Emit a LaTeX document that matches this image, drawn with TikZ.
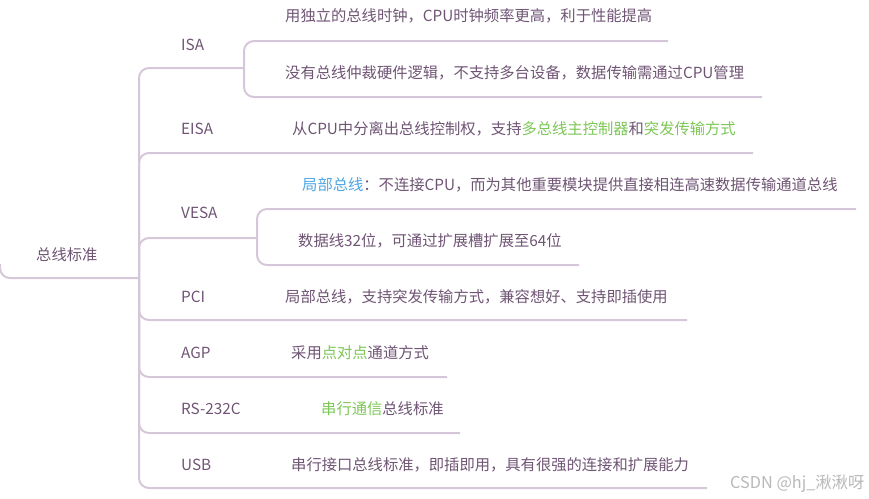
\documentclass[tikz,border=0pt]{standalone}
\usepackage{fontspec}
\setmainfont{Noto Sans CJK SC}
\newfontfamily\wmfont{Noto Sans CJK SC}
\definecolor{txt}{HTML}{6F5474}
\definecolor{ln}{HTML}{D6C6DA}
\definecolor{grn}{HTML}{7CC655}
\definecolor{blu}{HTML}{4EA6E4}
\definecolor{wm}{HTML}{B8B8B8}
\begin{document}
\begin{tikzpicture}[x=1pt,y=-1pt,
  lbl/.style={anchor=west,inner sep=0pt,text=txt,font=\fontsize{15.3}{17}\selectfont},
  br/.style={draw=ln,line width=2pt,rounded corners=10pt}]
\useasboundingbox (0,0) rectangle (869,498);
% text nodes
\node[lbl] (root) at (36,255) {总线标准};
\node[lbl] (isa) at (181,45) {ISA};
\node[lbl] (isa1) at (285,16) {用独立的总线时钟，CPU时钟频率更高，利于性能提高};
\node[lbl] (isa2) at (285,73) {没有总线仲裁硬件逻辑，不支持多台设备，数据传输需通过CPU管理};
\node[lbl] (eisa) at (181,129) {EISA};
\node[lbl] (eisa1) at (292,129) {从CPU中分离出总线控制权，支持\textcolor{grn}{多总线主控制器}和\textcolor{grn}{突发传输方式}};
\node[lbl] (vesa) at (181,213) {VESA};
\node[lbl] (vesa1) at (302,185) {\textcolor{blu}{局部总线}：不连接CPU，而为其他重要模块提供直接相连高速数据传输通道总线};
\node[lbl] (vesa2) at (298,241) {数据线32位，可通过扩展槽扩展至64位};
\node[lbl] (pci) at (181,297) {PCI};
\node[lbl] (pci1) at (285,297) {局部总线，支持突发传输方式，兼容想好、支持即插使用};
\node[lbl] (agp) at (181,353) {AGP};
\node[lbl] (agp1) at (291,353) {采用\textcolor{grn}{点对点}通道方式};
\node[lbl] (rs) at (181,409) {RS-232C};
\node[lbl] (rs1) at (321,409) {\textcolor{grn}{串行通信}总线标准};
\node[lbl] (usb) at (181,465) {USB};
\node[lbl] (usb1) at (291,465) {串行接口总线标准，即插即用，具有很强的连接和扩展能力};
\node[anchor=west,inner sep=0pt,text=wm,font=\wmfont\fontsize{16.3}{18}\selectfont] (wmk) at (730,484) {CSDN @hj\_湫湫呀};
% connector points
\coordinate (rootL) at (0,264);
\coordinate (rootJ) at (139,278);
\coordinate (isaJ) at (244,68);
\coordinate (isa1E) at (668,41);
\coordinate (isa2E) at (762,97);
\coordinate (eisaE) at (753,153);
\coordinate (vesaJ) at (257,238);
\coordinate (vesa1E) at (856,209);
\coordinate (vesa2E) at (579,265);
\coordinate (pciE) at (687,320);
\coordinate (agpE) at (447,377);
\coordinate (rsE) at (460,433);
\coordinate (usbE) at (707,488);
% connectors
\draw[br] (rootL) |- (rootJ);
\draw[br] (rootJ) |- (isaJ);
\draw[br] (isaJ) |- (isa1E);
\draw[br] (isaJ) |- (isa2E);
\draw[br] (rootJ) |- (eisaE);
\draw[br] (rootJ) |- (vesaJ);
\draw[br] (vesaJ) |- (vesa1E);
\draw[br] (vesaJ) |- (vesa2E);
\draw[br] (rootJ) |- (pciE);
\draw[br] (rootJ) |- (agpE);
\draw[br] (rootJ) |- (rsE);
\draw[br] (rootJ) |- (usbE);
\end{tikzpicture}
\end{document}
